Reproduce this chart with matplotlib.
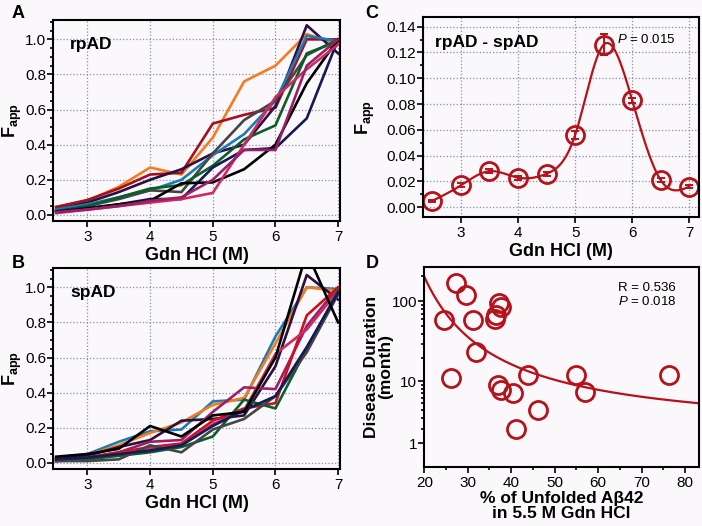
import numpy as np
import matplotlib
matplotlib.use('Agg')
import matplotlib.pyplot as plt
from matplotlib.ticker import MultipleLocator, FixedLocator, NullFormatter

plt.rcParams['font.family'] = ['Liberation Sans', 'DejaVu Sans']
plt.rcParams['mathtext.fontset'] = 'custom'
plt.rcParams['mathtext.rm'] = 'Liberation Sans'
plt.rcParams['mathtext.bf'] = 'Liberation Sans:bold'
plt.rcParams['mathtext.it'] = 'Liberation Sans:italic'

# Gdn HCl concentrations (M)
gdn = [2.5, 3.0, 3.5, 4.0, 4.5, 5.0, 5.5, 6.0, 6.5, 7.0]

# panel A: rpAD samples
rp_orange = [0.045, 0.08, 0.16, 0.27, 0.23, 0.44, 0.76, 0.85, 1.03, 0.97]
rp_darkred = [0.045, 0.085, 0.15, 0.23, 0.24, 0.52, 0.57, 0.61, 1.0, 1.0]
rp_purple = [0.03, 0.07, 0.13, 0.20, 0.26, 0.35, 0.40, 0.62, 1.08, 0.92]
rp_blue = [0.03, 0.06, 0.10, 0.14, 0.20, 0.34, 0.46, 0.65, 1.02, 0.99]
rp_gray = [0.02, 0.05, 0.09, 0.14, 0.13, 0.35, 0.54, 0.65, 0.91, 1.0]
rp_green = [0.02, 0.05, 0.10, 0.15, 0.17, 0.28, 0.43, 0.51, 0.92, 0.99]
rp_navy = [0.02, 0.04, 0.06, 0.09, 0.09, 0.27, 0.37, 0.38, 0.55, 1.0]
rp_black = [0.015, 0.035, 0.06, 0.08, 0.18, 0.185, 0.26, 0.40, 0.75, 1.0]
rp_crimson = [0.01, 0.03, 0.05, 0.07, 0.09, 0.125, 0.40, 0.67, 0.83, 0.97]
rp_magenta = [0.015, 0.03, 0.05, 0.08, 0.10, 0.20, 0.37, 0.37, 0.85, 1.0]

# panel B: spAD samples
sp_blue = [0.03, 0.05, 0.12, 0.18, 0.19, 0.35, 0.36, 0.72, 1.0, 0.99]
sp_orange = [0.02, 0.045, 0.10, 0.17, 0.23, 0.33, 0.37, 0.68, 1.0, 0.98]
sp_black = [0.035, 0.05, 0.08, 0.21, 0.15, 0.27, 0.29, 0.60, 1.2, 0.80]
sp_purple = [0.02, 0.04, 0.09, 0.13, 0.24, 0.25, 0.27, 0.55, 1.07, 0.93]
sp_magenta = [0.01, 0.03, 0.06, 0.12, 0.13, 0.29, 0.43, 0.42, 0.78, 1.0]
sp_red = [0.01, 0.03, 0.06, 0.09, 0.11, 0.24, 0.31, 0.34, 0.84, 1.0]
sp_crimson = [0.01, 0.02, 0.05, 0.08, 0.10, 0.22, 0.30, 0.62, 0.76, 0.98]
sp_green = [0.02, 0.02, 0.04, 0.06, 0.09, 0.15, 0.36, 0.31, 0.65, 0.98]
sp_gray = [0.01, 0.01, 0.02, 0.10, 0.06, 0.19, 0.25, 0.38, 0.63, 0.96]
sp_navy = [0.02, 0.03, 0.05, 0.07, 0.10, 0.21, 0.30, 0.38, 0.66, 0.97]

# panel C: difference rpAD - spAD
diff = [0.005, 0.017, 0.028, 0.023, 0.026, 0.056, 0.126, 0.083, 0.021, 0.016]
diff_err = [0.001, 0.0015, 0.0015, 0.0015, 0.0015, 0.003, 0.008, 0.002, 0.0015, 0.001]

# panel D: % unfolded vs disease duration
unfolded = [27.3, 29.6, 24.5, 31.1, 37.3, 37.7, 36.6, 36.2, 31.9, 26.1,
            37.0, 37.6, 40.5, 43.8, 46.2, 41.0, 54.8, 57.0, 76.2]
duration = [164, 118, 59, 59, 96, 85, 67, 60, 24, 11,
            9, 7.8, 7.0, 12, 4.0, 2.0, 12, 7.2, 12]
# fitted curve: log10(y+1) = a + b/x + c/x^2
fit_a, fit_b, fit_c = 0.3945, 30.18, 157.4

colors = {'orange': '#f47b20', 'darkred': '#a3101f', 'purple': '#2e0f3f',
          'blue': '#1f7ab4', 'gray': '#454545', 'green': '#0b5e2a',
          'navy': '#141a55', 'black': '#000000', 'crimson': '#cc2a62',
          'magenta': '#9c1f66', 'red': '#cc1020'}
red_c = '#b5121b'
bg = '#faf8fa'
grid_c = '#8c8cb0'


def natural_spline(x, y, xs):
    x = np.asarray(x, float)
    y = np.asarray(y, float)
    n = len(x)
    h = np.diff(x)
    A = np.zeros((n, n))
    r = np.zeros(n)
    A[0, 0] = A[-1, -1] = 1
    for i in range(1, n - 1):
        A[i, i - 1] = h[i - 1]
        A[i, i] = 2 * (h[i - 1] + h[i])
        A[i, i + 1] = h[i]
        r[i] = 3 * ((y[i + 1] - y[i]) / h[i] - (y[i] - y[i - 1]) / h[i - 1])
    c = np.linalg.solve(A, r)
    b = (y[1:] - y[:-1]) / h - h * (2 * c[:-1] + c[1:]) / 3
    d = (c[1:] - c[:-1]) / (3 * h)
    idx = np.clip(np.searchsorted(x, xs) - 1, 0, n - 2)
    dx = xs - x[idx]
    return y[idx] + b[idx] * dx + c[idx] * dx ** 2 + d[idx] * dx ** 3


def style_axes(ax, grid=True):
    ax.set_facecolor(bg)
    for s in ax.spines.values():
        s.set_linewidth(1.5)
    ax.tick_params(which='both', direction='out', top=False, right=False,
                   labelsize=11, width=1.2)
    ax.tick_params(axis='y', pad=1)
    ax.tick_params(axis='x', pad=2.5)
    ax.tick_params(which='major', length=4)
    ax.tick_params(which='minor', length=2.5)
    if grid:
        ax.grid(True, which='major', linestyle=':', color=grid_c, linewidth=0.9)
        ax.set_axisbelow(True)


fig = plt.figure(figsize=(7.02, 5.26), dpi=100)
fig.patch.set_facecolor(bg)

axA = fig.add_axes([0.0755, 0.5798, 0.4088, 0.3821])
axB = fig.add_axes([0.0755, 0.1084, 0.4088, 0.3821])
axC = fig.add_axes([0.6021, 0.5875, 0.3936, 0.3802])
axD = fig.add_axes([0.6044, 0.1127, 0.3913, 0.3797])

rp_series = [(rp_orange, 'orange'), (rp_darkred, 'darkred'), (rp_purple, 'purple'),
             (rp_blue, 'blue'), (rp_gray, 'gray'), (rp_green, 'green'),
             (rp_navy, 'navy'), (rp_black, 'black'), (rp_crimson, 'crimson'),
             (rp_magenta, 'magenta')]
sp_series = [(sp_blue, 'blue'), (sp_orange, 'orange'), (sp_purple, 'purple'),
             (sp_magenta, 'magenta'), (sp_red, 'red'), (sp_crimson, 'crimson'),
             (sp_green, 'green'), (sp_gray, 'gray'), (sp_navy, 'navy'),
             (sp_black, 'black')]

for ax, series, name in [(axA, rp_series, 'rpAD'), (axB, sp_series, 'spAD')]:
    style_axes(ax)
    for vals, c in series:
        ax.plot(gdn, vals, color=colors[c], linewidth=1.9)
    ax.set_xlim(2.45, 7.03)
    ax.set_ylim(-0.035, 1.11)
    ax.xaxis.set_major_locator(MultipleLocator(1))
    ax.yaxis.set_minor_locator(MultipleLocator(0.05))
    ax.set_yticks(np.arange(0, 1.01, 0.2))
    ax.set_yticklabels(['%.1f' % v for v in np.arange(0, 1.01, 0.2)])
    ax.set_xlabel('Gdn HCl (M)', fontsize=13, fontweight='bold', labelpad=2)
    ax.set_ylabel(r'$\mathbf{F_{app}}$', fontsize=13)
    ax.yaxis.set_label_coords(-0.1, 0.5)
    ax.text(2.72, 0.97, name, fontsize=12.5, fontweight='bold', va='center')

# panel C
style_axes(axC)
xs = np.linspace(gdn[0], gdn[-1], 300)
axC.plot(xs, natural_spline(gdn, diff, xs), color=red_c, linewidth=1.6)
axC.errorbar(gdn, diff, yerr=diff_err, fmt='none', ecolor=red_c,
             elinewidth=1.4, capsize=3, capthick=1.4)
axC.plot(gdn, diff, 'o', markersize=13, markerfacecolor='none',
         markeredgecolor=red_c, markeredgewidth=2.0)
axC.set_xlim(2.33, 7.17)
axC.set_ylim(-0.0075, 0.1475)
axC.xaxis.set_major_locator(MultipleLocator(1))
axC.yaxis.set_major_locator(MultipleLocator(0.02))
axC.yaxis.set_minor_locator(MultipleLocator(0.01))
axC.yaxis.set_major_formatter(matplotlib.ticker.FormatStrFormatter('%.2f'))
axC.set_xlabel('Gdn HCl (M)', fontsize=13, fontweight='bold', labelpad=2)
axC.set_ylabel(r'$\mathbf{F_{app}}$', fontsize=13)
axC.yaxis.set_label_coords(-0.165, 0.5)
axC.text(2.55, 0.128, 'rpAD - spAD', fontsize=12.5, fontweight='bold', va='center')
axC.text(5.73, 0.1297, r'$\it{P}$ = 0.015', fontsize=9.5, va='center')

# panel D
style_axes(axD, grid=False)
axD.set_yscale('function', functions=(lambda v: np.log10(np.clip(v, -0.999, None) + 1),
                                      lambda v: 10 ** v - 1))
xf = np.linspace(20, 83.2, 300)
axD.plot(xf, 10 ** (fit_a + fit_b / xf + fit_c / xf ** 2) - 1, color=red_c, linewidth=1.6)
axD.plot(unfolded, duration, 'o', markersize=13, markerfacecolor='none',
         markeredgecolor=red_c, markeredgewidth=2.0)
axD.set_xlim(20, 83.2)
axD.set_ylim(0.046, 258)
axD.yaxis.set_major_locator(FixedLocator([1, 10, 100]))
axD.yaxis.set_major_formatter(matplotlib.ticker.FixedFormatter(['1', '10', '100']))
axD.yaxis.set_minor_locator(FixedLocator([2, 3, 4, 5, 6, 7, 8, 9, 20, 30, 40, 50,
                                          60, 70, 80, 90, 200]))
axD.yaxis.set_minor_formatter(NullFormatter())
axD.xaxis.set_major_locator(MultipleLocator(10))
axD.xaxis.set_minor_locator(MultipleLocator(5))
axD.set_xlabel('% of Unfolded A\u03b242\nin 5.5 M Gdn HCl', fontsize=12.5,
               fontweight='bold', labelpad=1, linespacing=0.95)
axD.set_ylabel('Disease Duration\n(month)', fontsize=12.5, fontweight='bold',
               linespacing=0.95)
axD.yaxis.set_label_coords(-0.112, 0.5)
axD.text(0.705, 0.925, 'R = 0.536\n$\\it{P}$ = 0.018', transform=axD.transAxes,
         fontsize=9.5, va='top', linespacing=1.1)

for lbl, x, y in [('A', 0.017, 0.99), ('B', 0.017, 0.515), ('C', 0.521, 0.99), ('D', 0.521, 0.515)]:
    fig.text(x, y, lbl, fontsize=13, fontweight='bold', va='top')

fig.savefig('out.png', dpi=100, facecolor=bg)
